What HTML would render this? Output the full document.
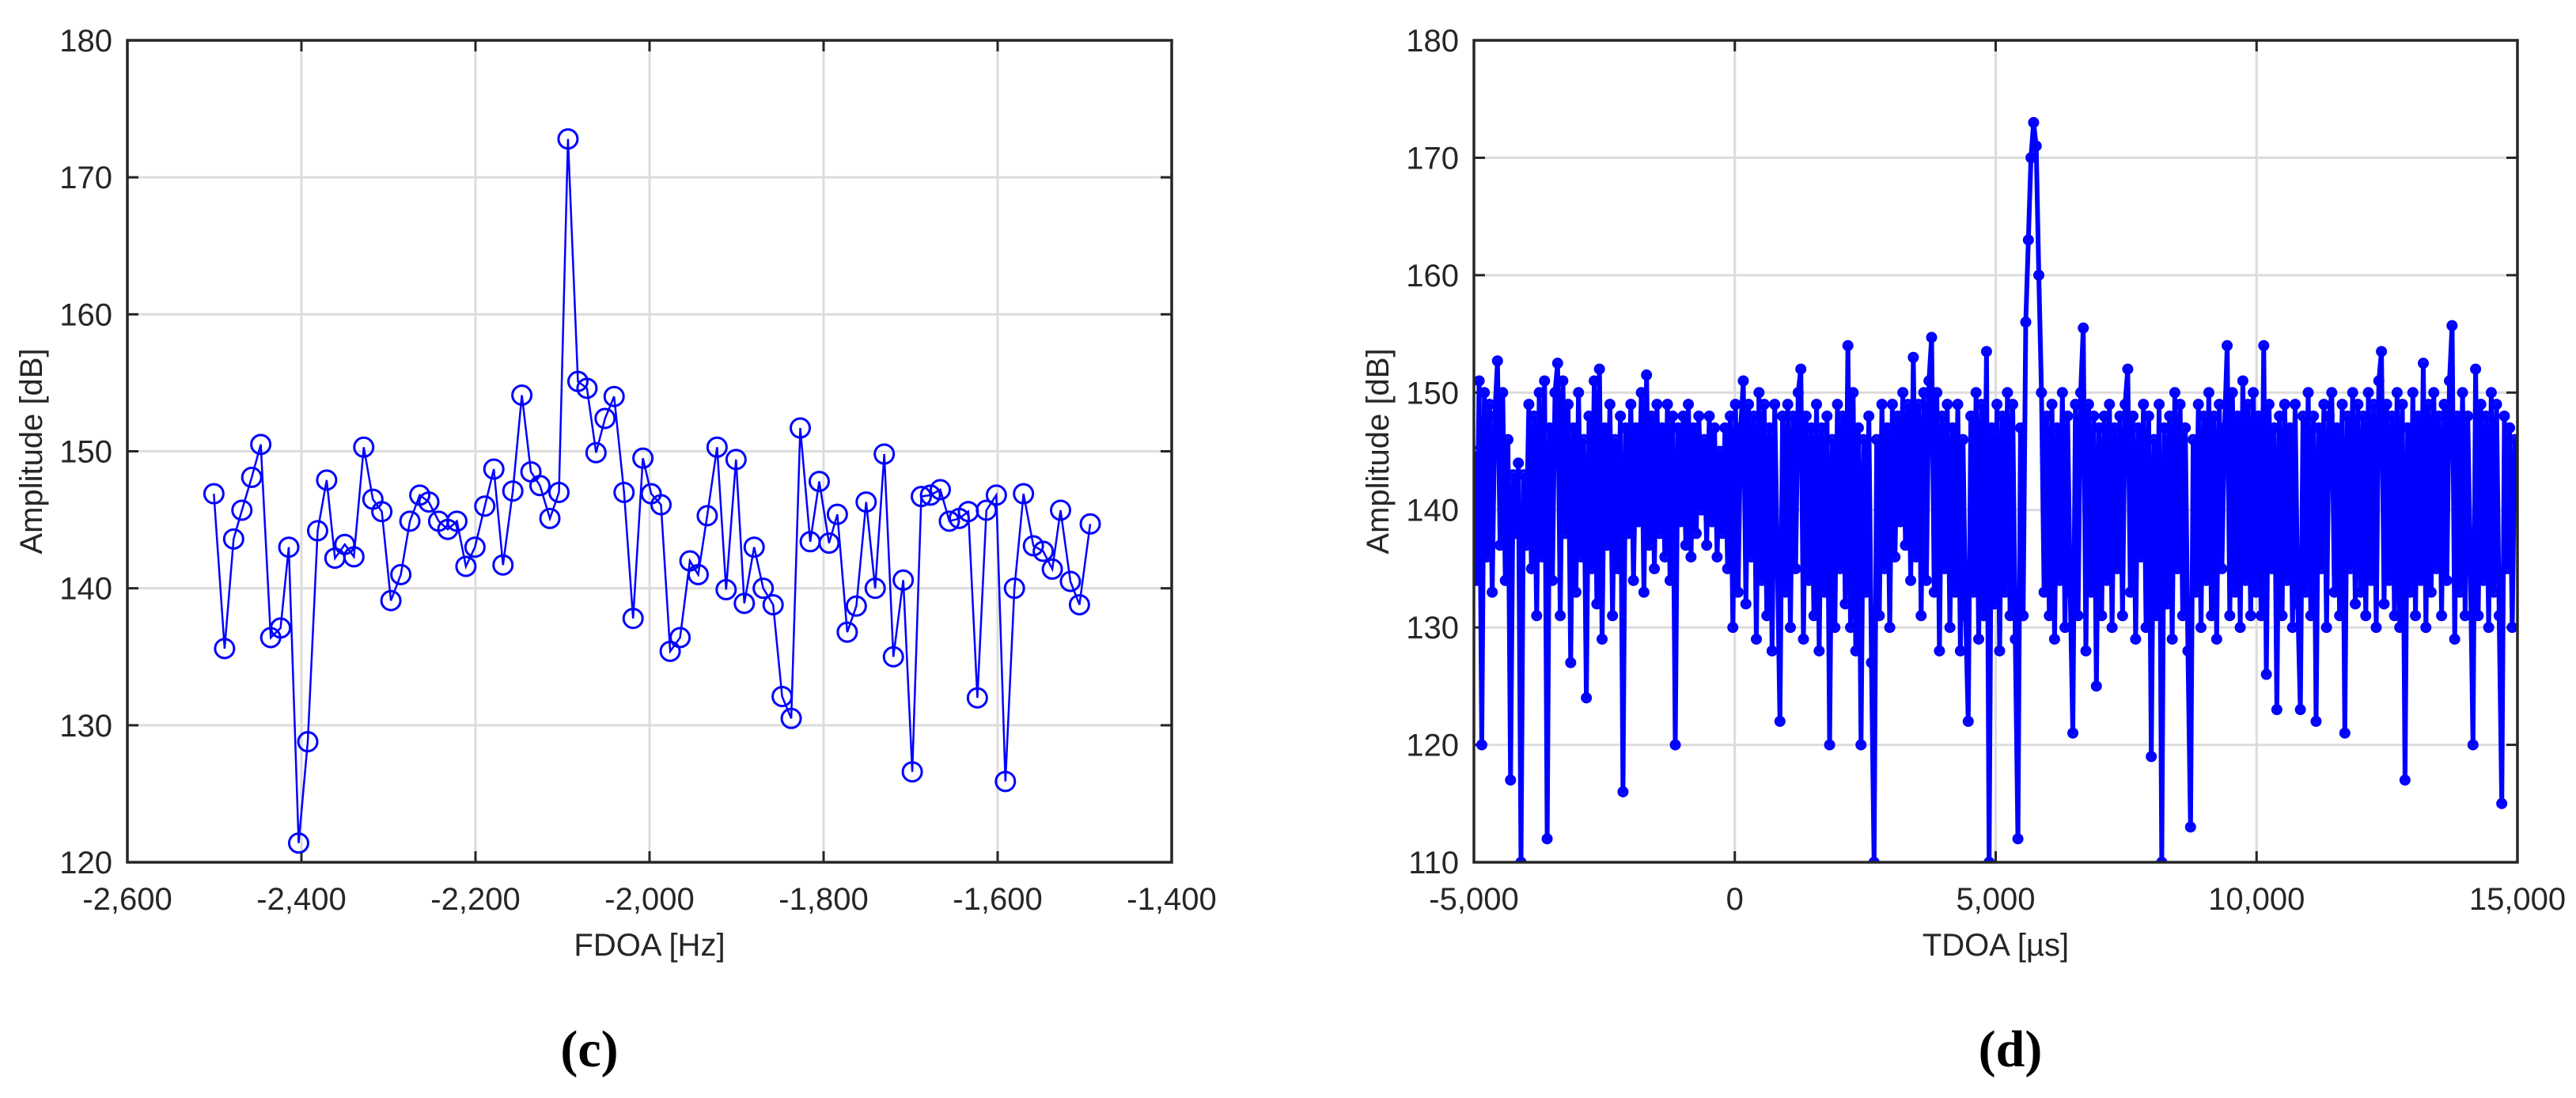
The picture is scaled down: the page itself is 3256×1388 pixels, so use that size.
<!DOCTYPE html>
<html><head><meta charset="utf-8"><style>
html,body{margin:0;padding:0;background:#fff;}
svg{display:block;font-family:"Liberation Sans",Arial,sans-serif;}
</style></head><body>
<svg id="fig" width="3256" height="1388" viewBox="0 0 3256 1388" xmlns="http://www.w3.org/2000/svg">
<defs>
<clipPath id="clipL"><rect x="161" y="51" width="1320" height="1039"/></clipPath>
<clipPath id="clipR"><rect x="1863" y="51" width="1319" height="1039"/></clipPath>
</defs>
<g id="panelC"></g>
<g id="panelD"></g>
<text x="745" y="1348" font-family="Liberation Serif,serif" font-weight="bold" font-size="66" text-anchor="middle" fill="#000">(c)</text>
<text x="2541" y="1348" font-family="Liberation Serif,serif" font-weight="bold" font-size="66" text-anchor="middle" fill="#000">(d)</text>
</svg>
<script>
// ---- Panel (c) data ----
const fdoaHz = [-2500.6,-2488.3,-2477.9,-2468.4,-2457.1,-2446.7,-2435.3,-2424.0,-2414.5,-2403.2,-2392.7,-2381.4,-2371.0,-2361.5,-2350.2,-2339.7,-2328.4,-2317.9,-2307.6,-2297.2,-2285.8,-2275.4,-2264.0,-2253.6,-2242.3,-2231.8,-2221.4,-2211.0,-2200.6,-2189.3,-2178.9,-2168.4,-2157.1,-2146.7,-2136.3,-2125.9,-2114.5,-2104.1,-2093.7,-2082.3,-2071.9,-2061.5,-2051.1,-2040.7,-2029.3,-2018.9,-2007.6,-1998.1,-1986.8,-1976.3,-1964.9,-1953.6,-1944.1,-1933.7,-1922.4,-1912.0,-1900.6,-1891.1,-1879.8,-1869.4,-1858.0,-1847.6,-1837.2,-1826.8,-1815.4,-1805.0,-1793.7,-1784.2,-1772.8,-1762.4,-1751.1,-1740.7,-1730.3,-1719.8,-1708.5,-1698.1,-1687.7,-1677.2,-1665.9,-1655.5,-1644.1,-1633.7,-1623.3,-1612.9,-1601.5,-1591.1,-1580.7,-1570.3,-1558.9,-1547.6,-1537.2,-1527.7,-1516.4,-1506.0,-1493.6];
const fdoaAmp = [146.9,135.6,143.6,145.7,148.1,150.5,136.4,137.1,143.0,121.4,128.8,144.2,147.9,142.2,143.2,142.3,150.3,146.5,145.6,139.1,141.0,144.9,146.8,146.3,144.9,144.3,144.9,141.6,143.0,146.0,148.7,141.7,147.1,154.1,148.5,147.5,145.1,147.0,172.8,155.1,154.6,149.9,152.4,154.0,147.0,137.8,149.5,146.9,146.1,135.4,136.4,142.0,141.0,145.3,150.3,139.9,149.4,138.9,143.0,140.0,138.8,132.1,130.5,151.7,143.4,147.8,143.3,145.4,136.8,138.7,146.3,140.0,149.8,135.0,140.6,126.6,146.7,146.8,147.2,144.9,145.1,145.6,132.0,145.7,146.8,125.9,140.0,146.9,143.1,142.7,141.4,145.7,140.5,138.8,144.7];
const cXTicks = [-2600,-2400,-2200,-2000,-1800,-1600,-1400];
const cXTickLabels = ["-2,600","-2,400","-2,200","-2,000","-1,800","-1,600","-1,400"];
const cYTicks = [120,130,140,150,160,170,180];
const cYTickLabels = ["120","130","140","150","160","170","180"];

// ---- Panel (d) data ----
const tdoaStartUs = -5000, tdoaEndUs = 15000;
const tdoaAmp = [
145,134,151,120,150,136,149,133,148,152.7,
137,150,134,146,117,143,138,144,110,143,
137,149,135,148,131,150,136,151,112,147,
134,150,152.5,131,151,138,149,127,147,133,
150,136,146,124,148,135,151,132,152,129,
147,137,149,131,146,135,148,116,147,138,
149,134,147,139,150,133,151.5,137,148,135,
149,138,147,136,149,134,148,120,147,139,
148,137,149,136,147,138,148,140,146,137,
148,139,147,136,145,138,147,135,148,130,
149,133,147,151,132,149,136,148,129,150,
134,149,131,147,128,149,136,122,148,133,
149,130,148,135,150,152,129,148,134,147,
131,149,128,147,133,148,120,146,130,149,
135,148,132,154,130,150,128,147,120,146,
133,148,127,110,146,131,149,135,147,130,
149,136,148,139,150,137,149,134,153,136,
149,131,150,134,151,154.7,133,150,128,148,
135,149,130,147,133,149,128,146,131,122,
148,133,150,129,149,131,153.5,110,147,132,
149,128,148,133,150,131,149,129,112,147,
131,156,163,170,173,171,160,150,133,148,
131,149,129,147,134,150,130,148,133,121,
149,131,150,155.5,128,149,133,148,125,147,
131,148,134,149,130,147,135,148,131,149,
152,133,148,129,147,136,149,130,148,119,
146,131,149,110,147,132,148,129,150,135,
149,131,147,128,113,146,133,149,130,148,
134,150,131,148,129,149,135,147,154,131,
150,133,148,130,151,134,149,131,150,133,
148,131,154,126,149,135,147,123,148,131,
149,134,147,130,149,132,123,148,133,150,
131,148,122,147,135,149,130,148,150,133,
147,131,149,121,148,135,150,132,149,133,
148,131,150,134,149,130,151,153.5,132,149,
134,148,131,150,130,149,117,147,133,150,
131,148,134,152.5,130,149,133,150,135,148,
131,149,134,151,155.7,129,148,133,150,131,
148,135,120,152,131,149,134,148,130,150,
133,149,131,115,148,135,147,130,146,144];
const dXTicks = [-5000,0,5000,10000,15000];
const dXTickLabels = ["-5,000","0","5,000","10,000","15,000"];
const dYTicks = [110,120,130,140,150,160,170,180];
const dYTickLabels = ["110","120","130","140","150","160","170","180"];

const NS = "http://www.w3.org/2000/svg";
function mk(parent, tag, attrs){
  const e = document.createElementNS(NS, tag);
  for (const k in attrs) e.setAttribute(k, attrs[k]);
  parent.appendChild(e);
  return e;
}
function linScale(d0,d1,r0,r1){ return v => r0 + (v-d0)/(d1-d0)*(r1-r0); }

function drawAxes(g, box, xs, ys, xTicks, xLabels, yTicks, yLabels, xTitle, yTitleX, prefix){
  const bg = mk(g,'rect',{x:box.l,y:box.t,width:box.r-box.l,height:box.b-box.t,fill:'#fff'});
  
  
  xTicks.forEach((t,i)=>{
    const x = xs(t);
    const gl = mk(g,'line',{x1:x,y1:box.t,x2:x,y2:box.b,stroke:'#dcdcdc','stroke-width':3});
    
    
    mk(g,'line',{x1:x,y1:box.b,x2:x,y2:box.b-14,stroke:'#262626','stroke-width':3});
    mk(g,'line',{x1:x,y1:box.t,x2:x,y2:box.t+14,stroke:'#262626','stroke-width':3});
    const tl = mk(g,'text',{x:x,y:box.b+60,'font-size':40,'text-anchor':'middle',fill:'#262626'});
    tl.textContent = xLabels[i];
    
    
  });
  yTicks.forEach((t,i)=>{
    const y = ys(t);
    const gl = mk(g,'line',{x1:box.l,y1:y,x2:box.r,y2:y,stroke:'#dcdcdc','stroke-width':3});
    
    
    mk(g,'line',{x1:box.l,y1:y,x2:box.l+14,y2:y,stroke:'#262626','stroke-width':3});
    mk(g,'line',{x1:box.r,y1:y,x2:box.r-14,y2:y,stroke:'#262626','stroke-width':3});
    const tl = mk(g,'text',{x:box.l-19,y:y+14,'font-size':40,'text-anchor':'end',fill:'#262626'});
    tl.textContent = yLabels[i];
    
    
  });
  const xt = mk(g,'text',{x:(box.l+box.r)/2,y:1208,'font-size':40,'text-anchor':'middle',fill:'#262626'});
  xt.textContent = xTitle;
  
  
  const cy = (box.t+box.b)/2;
  const yt = mk(g,'text',{x:yTitleX,y:cy,'font-size':40,'text-anchor':'middle',fill:'#262626',transform:'rotate(-90 '+yTitleX+' '+cy+')',dy:14});
  yt.textContent = 'Amplitude [dB]';
  
  
}
function drawFrame(g, box, prefix){
  const f = mk(g,'rect',{x:box.l,y:box.t,width:box.r-box.l,height:box.b-box.t,fill:'none',stroke:'#262626','stroke-width':3.5});
  
  
}

// Panel C
(function(){
  const g = document.getElementById('panelC');
  const box = {l:161,r:1481,t:51,b:1090};
  const xs = linScale(-2600,-1400,box.l,box.r);
  const ys = linScale(120,180,box.b,box.t);
  drawAxes(g, box, xs, ys, cXTicks, cXTickLabels, cYTicks, cYTickLabels, 'FDOA [Hz]', 39, 'fdoa');
  const sg = mk(g,'g',{'clip-path':'url(#clipL)'});
  
  
  const pts = fdoaHz.map((f,i)=>xs(f).toFixed(1)+','+ys(fdoaAmp[i]).toFixed(1)).join(' ');
  const pl = mk(sg,'polyline',{points:pts,fill:'none',stroke:'#0000ff','stroke-width':2.5});
  
  
  fdoaHz.forEach((f,i)=>{
    const c = mk(sg,'circle',{cx:xs(f),cy:ys(fdoaAmp[i]),r:12,fill:'none',stroke:'#0000ff','stroke-width':3});
    
    
  });
  drawFrame(g, box, 'fdoa');
})();

// Panel D
(function(){
  const g = document.getElementById('panelD');
  const box = {l:1863,r:3182,t:51,b:1090};
  const xs = linScale(-5000,15000,box.l,box.r);
  const ys = linScale(110,180,box.b,box.t);
  drawAxes(g, box, xs, ys, dXTicks, dXTickLabels, dYTicks, dYTickLabels, 'TDOA [µs]', 1741, 'tdoa');
  const sg = mk(g,'g',{'clip-path':'url(#clipR)'});
  
  
  const step = (tdoaEndUs - tdoaStartUs)/(tdoaAmp.length-1);
  const tx = i => xs(tdoaStartUs + i*step);
  const pts = tdoaAmp.map((a,i)=>tx(i).toFixed(1)+','+ys(a).toFixed(1)).join(' ');
  const pl = mk(sg,'polyline',{points:pts,fill:'none',stroke:'#0000ff','stroke-width':6,'stroke-linejoin':'round'});
  
  
  tdoaAmp.forEach((a,i)=>{
    const c = mk(sg,'circle',{cx:tx(i),cy:ys(a),r:5,fill:'none',stroke:'#0000ff','stroke-width':4});
    
    
  });
  drawFrame(g, box, 'tdoa');
})();
</script>
</body></html>
